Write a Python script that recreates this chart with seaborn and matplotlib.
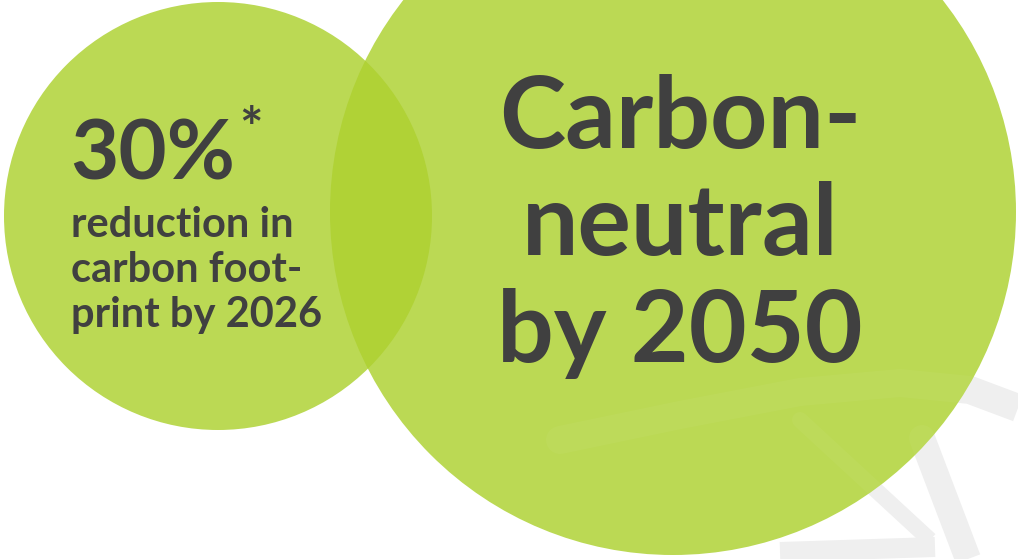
import numpy as np
import pandas as pd
import seaborn as sns
import matplotlib
matplotlib.use("Agg")
from matplotlib import pyplot as plt
from matplotlib.patches import Circle

# circles (pixel space of the 1018x559 picture)
circle_names = ['target 2026', 'target 2050']
circle_x = [218, 673]
circle_y = [216, 212]
circle_r = [214, 343]

# text blocks
big_left = '30%'
small_left = ['reduction in', 'carbon foot-', 'print by 2026']
right_lines = ['Carbon-', 'neutral', 'by 2050']

# faint leaf watermark in the corner (x list, y list, width in px)
leaf_strokes = [
    ([560, 680, 800, 900, 970, 1018], [440, 415, 392, 383, 390, 408], 28),
    ([922, 968], [438, 559], 26),
    ([780, 935], [552, 547], 20),
    ([800, 930], [420, 540], 16),
]

GREEN = '#bbd954'
OVERLAP = '#b0d236'
TEXT = '#404040'
GREY = '#efefef'

sns.set_theme(style='white')
plt.rcParams['font.family'] = ['Lato', 'DejaVu Sans']

fig = plt.figure(figsize=(10.18, 5.59), dpi=100)
ax = fig.add_axes([0, 0, 1, 1])
ax.set_xlim(0, 1018)
ax.set_ylim(559, 0)
ax.axis('off')

px = 72 / 100  # points per pixel

# watermark under the circles
for xs, ys, w in leaf_strokes:
    ax.plot(xs, ys, color=GREY, lw=w * px, solid_capstyle='butt', zorder=0)

circles = []
for x, y, r in zip(circle_x, circle_y, circle_r):
    c = Circle((x, y), r, facecolor=GREEN, edgecolor='none', zorder=1)
    ax.add_patch(c)
    circles.append(c)

# darker lens where the two circles meet
lens = Circle((circle_x[0], circle_y[0]), circle_r[0], facecolor=OVERLAP, edgecolor='none', zorder=2)
ax.add_patch(lens)
lens.set_clip_path(circles[1])

# watermark only just showing through the big circle
for xs, ys, w in leaf_strokes:
    ln, = ax.plot(xs, ys, color='white', alpha=0.035, lw=w * px, solid_capstyle='round', zorder=2)
    ln.set_clip_path(circles[1])

# left circle text
ax.text(70, 180, big_left, fontsize=60, fontweight='bold', color=TEXT, va='baseline', ha='left', zorder=3)
ax.text(239, 106, '*', fontsize=40, fontweight='bold', color=TEXT, va='top', ha='left', zorder=3)
for i, line in enumerate(small_left):
    ax.text(71, 237 + i * 45, line, fontsize=30, fontweight='bold', color=TEXT,
            va='baseline', ha='left', zorder=3)

# right circle text
for i, line in enumerate(right_lines):
    ax.text(680, 148 + i * 107, line, fontsize=72, fontweight='bold', color=TEXT,
            va='baseline', ha='center', zorder=3)

fig.savefig('out.png', dpi=100)
